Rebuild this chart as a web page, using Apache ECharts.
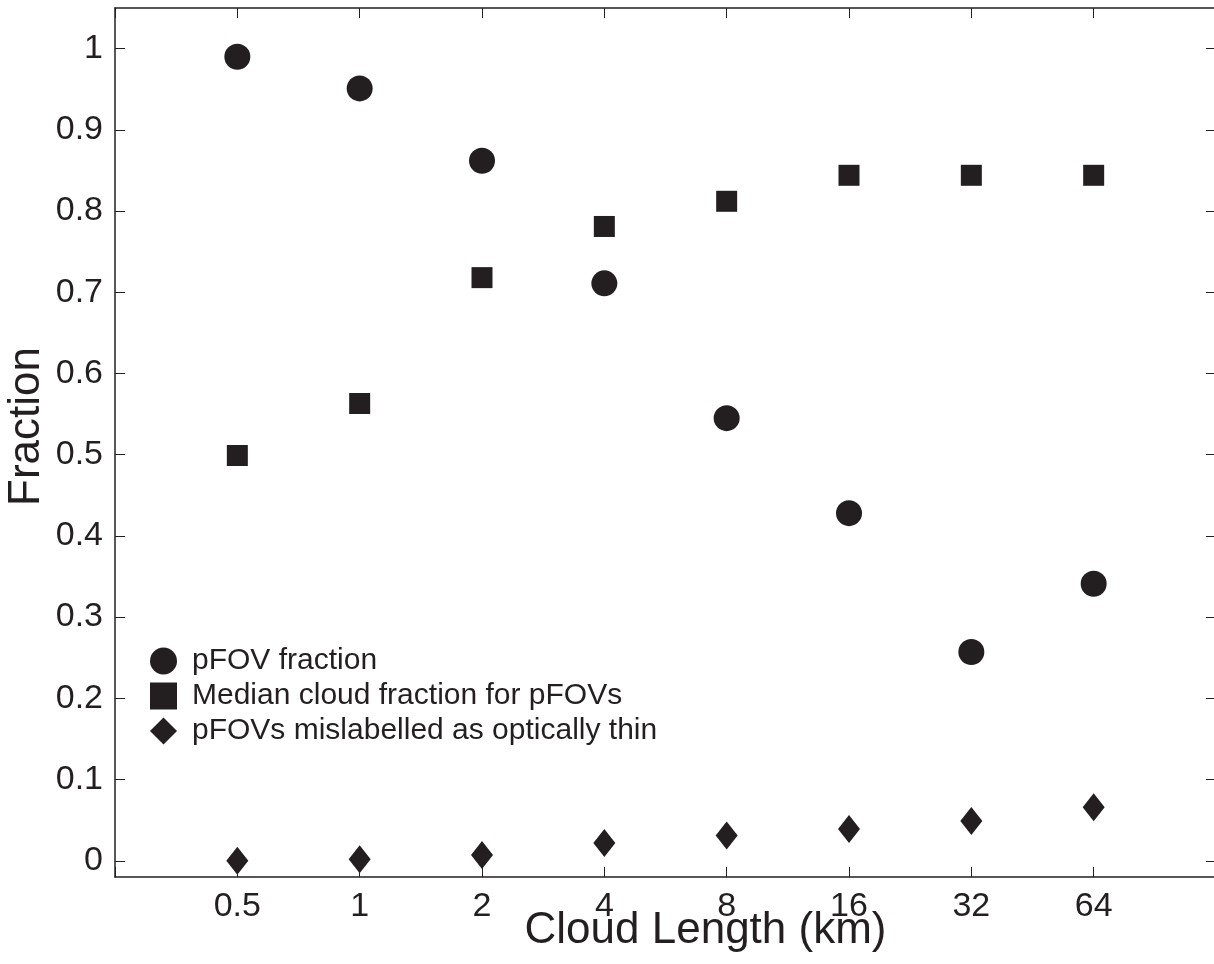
<!DOCTYPE html>
<html>
<head>
<meta charset="utf-8">
<script src="https://cdn.jsdelivr.net/npm/echarts@6/dist/echarts.min.js"></script>
<style>
  html, body { margin: 0; padding: 0; background: #fff; }
  #chart { width: 1214px; height: 964px; }
</style>
</head>
<body>
<div id="chart"></div>
<script>
// cloud length (km), log2 axis
var cloudLength = [0.5, 1, 2, 4, 8, 16, 32, 64];
// pFOV fraction
var pfovFraction = [0.990, 0.951, 0.862, 0.711, 0.545, 0.428, 0.257, 0.341];
// median cloud fraction for pFOVs
var medianCloudFraction = [0.499, 0.563, 0.718, 0.781, 0.812, 0.844, 0.844, 0.844];
// pFOVs mislabelled as optically thin
var mislabelled = [0.000, 0.002, 0.007, 0.022, 0.031, 0.039, 0.049, 0.066];
// y tick labels
var yTicks = [0, 0.1, 0.2, 0.3, 0.4, 0.5, 0.6, 0.7, 0.8, 0.9, 1];

var ink = '#231f20';
var font = 'Liberation Sans, Arial, Helvetica, sans-serif';

function pairs(vals) {
    return cloudLength.map(function (x, i) { return [x, vals[i]]; });
}

var chart = echarts.init(document.getElementById('chart'));

var xBase = {
    type: 'log',
    logBase: 2,
    min: 0.25,
    max: 128,
    axisLine: { show: true, onZero: false, lineStyle: { color: ink, width: 1.5 } },
    axisTick: { show: true, inside: true, length: 10, lineStyle: { color: ink, width: 1 } },
    splitLine: { show: false },
    minorTick: { show: false }
};
var yBase = {
    type: 'value',
    min: -0.02,
    max: 1.05,
    axisLine: { show: true, onZero: false, lineStyle: { color: ink, width: 1.5 } },
    axisTick: { show: true, inside: true, length: 10, customValues: yTicks, lineStyle: { color: ink, width: 1 } },
    splitLine: { show: false }
};

var option = {
    backgroundColor: '#fff',
    animation: false,
    textStyle: { fontFamily: font, color: ink },
    grid: { left: 115, top: 8, width: 1101, height: 869, containLabel: false, outerBoundsMode: 'none' },
    legend: {
        orient: 'vertical',
        left: 145,
        top: 641,
        itemWidth: 27,
        itemHeight: 27,
        itemGap: 5,
        textStyle: { fontSize: 30, color: ink, fontFamily: font, padding: [0, 0, 0, 10] },
        data: [
            { name: 'pFOV fraction', icon: 'circle' },
            { name: 'Median cloud fraction for pFOVs', icon: 'rect' },
            { name: 'pFOVs mislabelled as optically thin', icon: 'diamond' }
        ]
    },
    xAxis: [
        Object.assign({}, xBase, {
            position: 'bottom',
            name: 'Cloud Length (km)',
            nameLocation: 'middle',
            nameGap: 32,
            nameMoveOverlap: false,
            nameTextStyle: { fontSize: 44, color: ink, fontFamily: font, padding: [0, 0, 0, 80] },
            axisLabel: {
                fontSize: 34, color: ink, margin: 13, fontFamily: font,
                formatter: function (v) {
                    if (v <= 0.3 || v >= 100) return '';
                    return String(Math.round(v * 100) / 100);
                }
            }
        }),
        Object.assign({}, xBase, { position: 'top', axisLabel: { show: false } })
    ],
    yAxis: [
        Object.assign({}, yBase, {
            position: 'left',
            name: 'Fraction',
            nameLocation: 'middle',
            nameGap: 66,
            nameMoveOverlap: false,
            nameTextStyle: { fontSize: 44, color: ink, fontFamily: font, padding: [0, 0, 0, 32] },
            axisLabel: {
                fontSize: 34, color: ink, margin: 12, fontFamily: font,
                customValues: yTicks,
                formatter: function (v) {
                    return String(Math.round(v * 10) / 10);
                }
            }
        }),
        Object.assign({}, yBase, { position: 'right', axisLabel: { show: false } })
    ],
    series: [
        {
            name: 'pFOV fraction',
            type: 'scatter',
            symbol: 'circle',
            symbolSize: 26,
            itemStyle: { color: ink, opacity: 1 },
            data: pairs(pfovFraction)
        },
        {
            name: 'Median cloud fraction for pFOVs',
            type: 'scatter',
            symbol: 'rect',
            symbolSize: 21,
            itemStyle: { color: ink, opacity: 1 },
            data: pairs(medianCloudFraction)
        },
        {
            name: 'pFOVs mislabelled as optically thin',
            type: 'scatter',
            symbol: 'diamond',
            symbolSize: [22, 28],
            itemStyle: { color: ink, opacity: 1 },
            data: pairs(mislabelled)
        }
    ]
};

chart.setOption(option);
</script>
</body>
</html>
